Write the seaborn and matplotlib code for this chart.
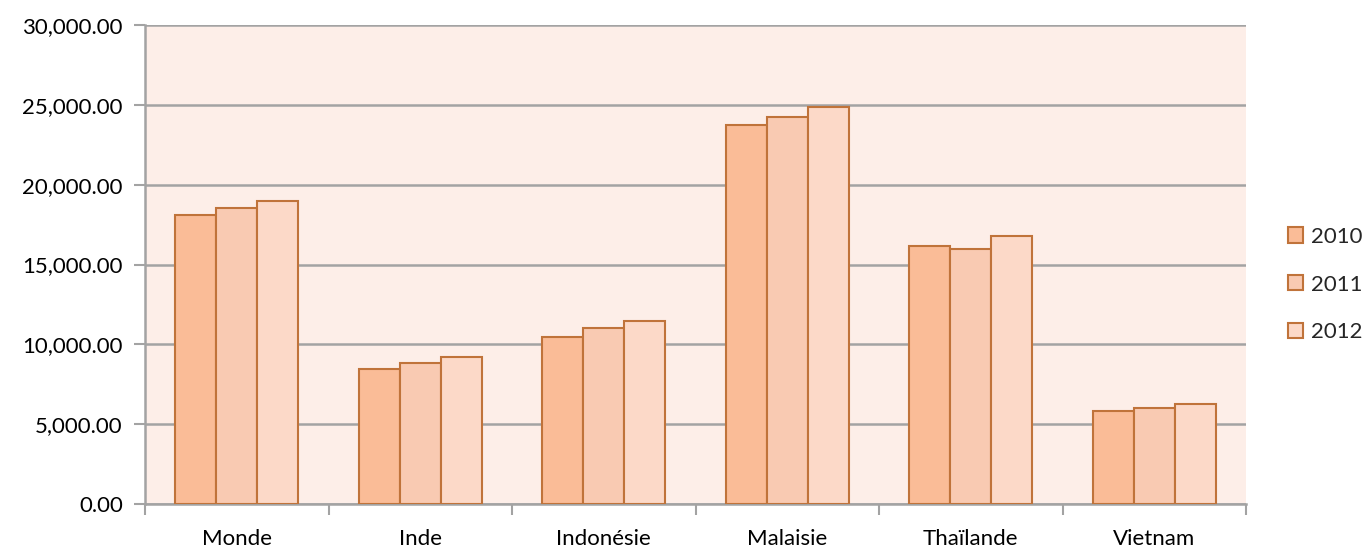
import matplotlib
matplotlib.use("Agg")
import matplotlib.pyplot as plt
import seaborn as sns
import pandas as pd
from matplotlib.ticker import FuncFormatter, FixedLocator

categories = ["Monde", "Inde", "Indonésie", "Malaisie", "Thaïlande", "Vietnam"]
years = ["2010", "2011", "2012"]
values_2010 = [18080, 8480, 10470, 23760, 16180, 5850]
values_2011 = [18560, 8860, 11030, 24240, 15990, 6040]
values_2012 = [18950, 9200, 11470, 24870, 16760, 6290]

rows = []
for y, vals in zip(years, [values_2010, values_2011, values_2012]):
    for c, v in zip(categories, vals):
        rows.append({"pays": c, "annee": y, "valeur": v})
df = pd.DataFrame(rows)

sns.set_theme(style="white")
plt.rcParams["font.family"] = ["Lato", "DejaVu Sans"]

fig = plt.figure(figsize=(13.66, 5.49), dpi=100)
ax = fig.add_axes([145 / 1366, 45 / 549, 1101 / 1366, 479 / 549])
ax.set_facecolor("#FDEEE8")

palette = {"2010": "#FABC97", "2011": "#F9CAB2", "2012": "#FCD9C8"}
sns.barplot(data=df, x="pays", y="valeur", hue="annee", order=categories,
            hue_order=years, palette=palette, width=0.67, gap=0,
            edgecolor="#C0733A", linewidth=1.5, saturation=1, ax=ax, zorder=3)

ax.set_xlim(-0.5, len(categories) - 0.5)
ax.set_ylim(0, 30000)
ax.set_yticks(range(0, 30001, 5000))
ax.yaxis.set_major_formatter(FuncFormatter(lambda v, p: f"{v:,.2f}"))
ax.grid(axis="y", color="#A3A3A3", linewidth=1.8, zorder=0)
ax.set_axisbelow(True)
ax.set_xlabel("")
ax.set_ylabel("")

for s in ["top", "right"]:
    ax.spines[s].set_visible(False)
for s in ["left", "bottom"]:
    ax.spines[s].set_color("#A3A3A3")
    ax.spines[s].set_linewidth(1.8)

ax.tick_params(axis="y", which="major", length=8, width=1.5, color="#A3A3A3",
               labelsize=16, labelcolor="black", pad=8, left=True)
ax.tick_params(axis="x", which="major", length=0, labelsize=16,
               labelcolor="black", pad=18)
ax.xaxis.set_minor_locator(FixedLocator([i - 0.5 for i in range(len(categories) + 1)]))
ax.tick_params(axis="x", which="minor", length=8, width=1.5, color="#A3A3A3", bottom=True)

handles, labels = ax.get_legend_handles_labels()
ax.legend(handles, labels, loc="center left", bbox_to_anchor=(1.038, 0.458),
          frameon=False, fontsize=16, borderpad=0, borderaxespad=0,
          handlelength=0.68, handleheight=0.68, handletextpad=0.36,
          labelspacing=1.25)

fig.savefig("out.png", dpi=100)
